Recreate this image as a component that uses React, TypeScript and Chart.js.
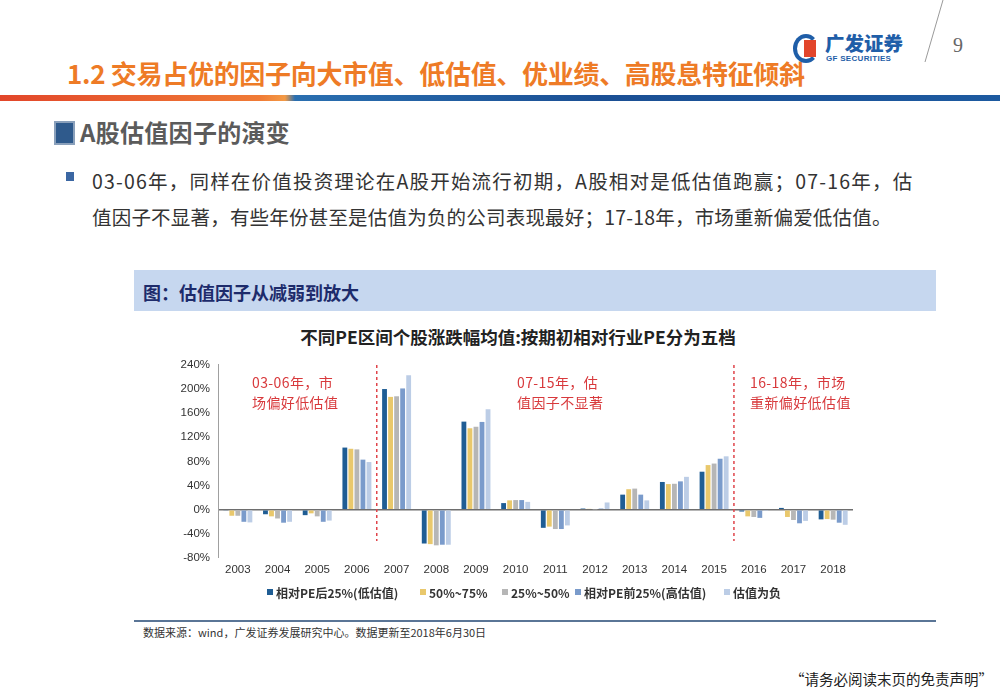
import React, { useEffect, useRef } from "react";
import { Chart, registerables } from "chart.js";

Chart.register(...registerables);

const years = ["2003", "2004", "2005", "2006", "2007", "2008", "2009", "2010", "2011", "2012", "2013", "2014", "2015", "2016", "2017", "2018"];
const lowPE = [-1, -7.5, -9, 103, 200, -56, 146, 11, -30, 2, 25, 46, 63, -3, 3, -16];
const mid50to75 = [-10, -11, -6, 101, 187, -57, 135, 15.5, -28, 1.5, 34, 42.5, 74, -11, -12, -15.5];
const mid25to50 = [-10, -14.5, -11, 100, 188, -59, 137.5, 16, -32, 0.5, 35, 43, 76.5, -12, -17, -16.5];
const highPE = [-20, -21.5, -20, 83, 201, -58, 145.5, 16, -32, 2, 25, 47, 84.5, -13.5, -22.5, -21.5];
const negPE = [-21, -20, -18, 79, 223, -58, 166.5, 13, -26, 12, 15.5, 54.5, 88.5, -2, -18.5, -25];

const seriesLabels = ["相对PE后25%(低估值)", "50%~75%", "25%~50%", "相对PE前25%(高估值)", "估值为负"];
const seriesColors = ["#1f5d94", "#e9c86c", "#b6b6b6", "#7a9bcb", "#bccde6"];
const yTicks = [-80, -40, 0, 40, 80, 120, 160, 200, 240];
// dashed separators sit between these category pairs
const separators = [[3, 4], [12, 13]];

const legendLefts = [267, 420, 502, 575, 724];

const FONT_CJK = '"Noto Sans CJK SC", "Liberation Sans", sans-serif';
const FONT_NUM = '"Liberation Sans", Arial, sans-serif';

const dashedPlugin = {
  id: "dashedSeparators",
  afterDatasetsDraw(chart: any) {
    const { ctx, scales } = chart;
    const x = scales.x;
    const y = scales.y;
    ctx.save();
    ctx.strokeStyle = "#e0444a";
    ctx.lineWidth = 1.5;
    ctx.setLineDash([3, 3]);
    separators.forEach(([a, b]) => {
      const px = (x.getPixelForValue(a) + x.getPixelForValue(b)) / 2;
      ctx.beginPath();
      ctx.moveTo(px, y.getPixelForValue(240));
      ctx.lineTo(px, y.getPixelForValue(-52));
      ctx.stroke();
    });
    ctx.restore();
  },
};

function BarChart() {
  const ref = useRef<HTMLCanvasElement>(null);
  useEffect(() => {
    if (!ref.current) return;
    const data = [lowPE, mid50to75, mid25to50, highPE, negPE];
    const chart = new Chart(ref.current, {
      type: "bar",
      data: {
        labels: years,
        datasets: data.map((d, i) => ({
          label: seriesLabels[i],
          data: d,
          backgroundColor: seriesColors[i],
          borderWidth: 0,
          categoryPercentage: 0.76,
          barPercentage: 0.8,
        })),
      },
      options: {
        animation: false,
        responsive: false,
        maintainAspectRatio: false,
        layout: { padding: { top: 9, right: 77, left: 0, bottom: 0 } },
        plugins: { legend: { display: false }, tooltip: { enabled: false } },
        scales: {
          x: {
            grid: { display: false, drawTicks: false },
            border: { display: false },
            ticks: { color: "#333", font: { family: FONT_NUM, size: 11.5 }, padding: 5, maxRotation: 0 },
            afterFit(scale: any) {
              scale.height = 32;
            },
          },
          y: {
            min: -80,
            max: 240,
            afterBuildTicks(scale: any) {
              scale.ticks = yTicks.map((v) => ({ value: v }));
            },
            ticks: {
              color: "#333",
              font: { family: FONT_NUM, size: 11.5 },
              padding: 8,
              callback: (v: any) => v + "%",
            },
            grid: {
              drawTicks: false,
              color: (c: any) => (c.tick && c.tick.value === 0 ? "#6e6e6e" : "rgba(0,0,0,0)"),
              lineWidth: (c: any) => (c.tick && c.tick.value === 0 ? 1.5 : 0),
            },
            border: { display: true, color: "#a0a0a0", width: 1 },
            afterFit(scale: any) {
              scale.width = 78;
            },
          },
        },
      },
      plugins: [dashedPlugin],
    } as any);
    return () => chart.destroy();
  }, []);
  return <canvas ref={ref} width={790} height={240} style={{ position: "absolute", left: 140, top: 350, width: 790, height: 240 }} />;
}

const abs = (s: React.CSSProperties): React.CSSProperties => ({ position: "absolute", ...s });

export default function App() {
  const red = "#d8393c";
  const annot: React.CSSProperties = { fontSize: 14, color: red, lineHeight: "20px", whiteSpace: "nowrap", letterSpacing: 0.4 };
  return (
    <div style={{ position: "absolute", left: 0, top: 0, width: 1000, height: 692, background: "#fff", overflow: "hidden", fontFamily: FONT_CJK }}>
      {/* header */}
      <div style={abs({ left: 67, top: 55, fontSize: 26, fontWeight: 700, color: "#ee7b26", whiteSpace: "nowrap", lineHeight: "36px", letterSpacing: -0.3 })}>
        1.2 交易占优的因子向大市值、低估值、优业绩、高股息特征倾斜
      </div>
      <div style={abs({ left: 0, top: 95, width: 1000, height: 6, background: "linear-gradient(90deg, #e2462a 0%, #f07b36 26%, #f39a45 28.5%, #2a6fb0 29.5%, #1b4f94 60%, #1d5aa0 100%)" })} />
      {/* logo */}
      <div style={abs({ left: 793, top: 34, width: 26, height: 29, borderRadius: "50%", border: "4px solid #1f5ea8", borderRightColor: "transparent", boxSizing: "border-box" })} />
      <div style={abs({ left: 804, top: 40, width: 12, height: 17, background: "#e2452b" })} />
      <div style={abs({ left: 825, top: 31, fontSize: 19.5, fontWeight: 900, color: "#1f5ea8", whiteSpace: "nowrap", lineHeight: "24px" })}>广发证券</div>
      <div style={abs({ left: 826, top: 54, fontSize: 8, fontWeight: 700, color: "#1f5ea8", whiteSpace: "nowrap", fontFamily: FONT_NUM, lineHeight: "9px", letterSpacing: 0.3 })}>GF SECURITIES</div>
      <svg style={abs({ left: 915, top: 0 })} width={40} height={70}>
        <line x1={28} y1={0} x2={10} y2={62} stroke="#9a9a9a" strokeWidth={1} />
      </svg>
      <div style={abs({ left: 953, top: 34, fontSize: 20, color: "#666", fontFamily: '"Liberation Serif", "DejaVu Serif", serif' })}>9</div>

      {/* section heading */}
      <div style={abs({ left: 54, top: 121, width: 21, height: 24, background: "#2f5a8c", border: "2px solid #8aa0bb", boxSizing: "border-box" })} />
      <div style={abs({ left: 80, top: 115, fontSize: 24, fontWeight: 700, color: "#5b5b5b", whiteSpace: "nowrap", lineHeight: "34px", letterSpacing: 0.3 })}>A股估值因子的演变</div>

      {/* bullet */}
      <div style={abs({ left: 66, top: 172, width: 8, height: 9, background: "#3b67a3" })} />
      <div style={abs({ left: 92, top: 163, fontSize: 19.5, color: "#333", whiteSpace: "nowrap", lineHeight: "36px" })}>
        <div style={{ letterSpacing: 1.2 }}>03-06年，同样在价值投资理论在A股开始流行初期，A股相对是低估值跑赢；07-16年，估</div>
        <div style={{ letterSpacing: 0.2 }}>值因子不显著，有些年份甚至是估值为负的公司表现最好；17-18年，市场重新偏爱低估值。</div>
      </div>

      {/* caption box */}
      <div style={abs({ left: 134, top: 270, width: 802, height: 41, background: "#c6d7ef" })} />
      <div style={abs({ left: 143, top: 278, fontSize: 18, fontWeight: 700, color: "#1d2b6b", whiteSpace: "nowrap", lineHeight: "28px" })}>图：估值因子从减弱到放大</div>

      {/* chart title */}
      <div style={abs({ left: 268, top: 325, width: 500, textAlign: "center", fontSize: 17.5, fontWeight: 700, color: "#222", whiteSpace: "nowrap", lineHeight: "24px" })}>
        不同PE区间个股涨跌幅均值:按期初相对行业PE分为五档
      </div>

      <BarChart />

      {/* annotations */}
      <div style={abs({ left: 252, top: 372, ...annot })}>
        03-06年，市<br />场偏好低估值
      </div>
      <div style={abs({ left: 517, top: 372, ...annot })}>
        07-15年，估<br />值因子不显著
      </div>
      <div style={abs({ left: 750, top: 372, ...annot })}>
        16-18年，市场<br />重新偏好低估值
      </div>

      {/* legend */}
      {seriesLabels.map((lab, i) => (
        <div key={lab} style={abs({ left: legendLefts[i], top: 583, height: 18, display: "flex", alignItems: "center", whiteSpace: "nowrap" })}>
          <span style={{ display: "inline-block", width: 6, height: 6, background: seriesColors[i], marginRight: 3 }} />
          <span style={{ fontSize: 12, fontWeight: 700, color: "#333" }}>{lab}</span>
        </div>
      ))}

      {/* bottom rule and source */}
      <div style={abs({ left: 134, top: 620, width: 802, height: 2, background: "#5a7596" })} />
      <div style={abs({ left: 143, top: 624, fontSize: 11, color: "#333", whiteSpace: "nowrap", lineHeight: "17px" })}>
        数据来源：wind，广发证券发展研究中心。数据更新至2018年6月30日
      </div>

      {/* footer */}
      <div style={abs({ left: 790, top: 668, fontSize: 14.5, color: "#222", whiteSpace: "nowrap", lineHeight: "22px" })}>“请务必阅读末页的免责声明”</div>
    </div>
  );
}
